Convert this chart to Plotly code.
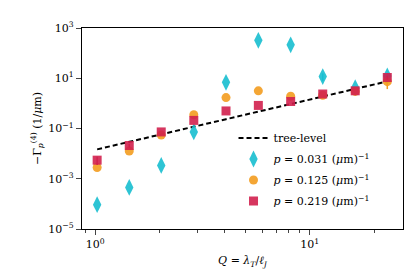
import plotly.graph_objects as go

Q = [1.02, 1.44, 2.03, 2.88, 4.07, 5.76, 8.15, 11.5, 16.3, 23.0]
tree_level = [0.0148, 0.029, 0.059, 0.118, 0.235, 0.47, 0.94, 1.88, 3.77, 7.5]

p031 = [9.3e-5, 4.5e-4, 3.4e-3, 0.073, 6.9, 323, 214, 11.7, 4.2, 12.3]
p031_err = [0, 0, 0, 0, 0, 0, 0, 4.0, 0, 3.0]
p125 = [2.8e-3, 0.0127, 0.055, 0.353, 1.7, 3.16, 1.92, 2.1, 3.0, 7.3]
p125_err = [0, 0, 0, 0, 0, 0, 0, 0, 0, 3.6]
p219 = [5.5e-3, 0.021, 0.073, 0.21, 0.50, 0.83, 1.19, 2.36, 3.16, 10.7]
p219_err = [0.002, 0.004, 0, 0, 0, 0, 0, 0, 0, 2.0]

labels = ["tree-level",
          "<i>p</i> = 0.031 (<i>μ</i>m)<sup>−1</sup>",
          "<i>p</i> = 0.125 (<i>μ</i>m)<sup>−1</sup>",
          "<i>p</i> = 0.219 (<i>μ</i>m)<sup>−1</sup>"]

y_tickvals = [1e-5, 1e-3, 1e-1, 1e1, 1e3]
y_ticktext = ["10<sup>−5</sup>", "10<sup>−3</sup>", "10<sup>−1</sup>", "10<sup>1</sup>", "10<sup>3</sup>"]
x_tickvals = [1, 10]
x_ticktext = ["10<sup>0</sup>", "10<sup>1</sup>"]
x_minor = [0.9, 2, 3, 4, 5, 6, 7, 8, 9, 20]

cyan = "#17becf"
orange = "#f39c1f"
red = "#d2204e"

fig = go.Figure()
fig.add_trace(go.Scatter(x=Q, y=tree_level, mode="lines", name=labels[0], legendgroup="a",
                         line=dict(color="black", width=2, dash="5px,3px")))
fig.add_trace(go.Scatter(x=Q, y=p031, mode="markers", name=labels[1], legendgroup="b",
                         marker=dict(symbol="diamond-tall", size=12, color=cyan, opacity=0.9, line=dict(width=0)),
                         error_y=dict(type="data", array=p031_err, color=cyan, thickness=1.5, width=0)))
fig.add_trace(go.Scatter(x=Q, y=p125, mode="markers", name=labels[2], legendgroup="c",
                         marker=dict(symbol="circle", size=9, color=orange, opacity=0.9, line=dict(width=0)),
                         error_y=dict(type="data", array=p125_err, color=orange, thickness=1.5, width=0)))
fig.add_trace(go.Scatter(x=Q, y=p219, mode="markers", name=labels[3], legendgroup="d",
                         marker=dict(symbol="square", size=9, color=red, opacity=0.9, line=dict(width=0)),
                         error_y=dict(type="data", array=p219_err, color=red, thickness=1.5, width=0)))

font_family = "'DejaVu Serif', 'Liberation Serif', serif"
fig.update_layout(
    width=415, height=277,
    margin=dict(l=74, r=20, t=14, b=56),
    paper_bgcolor="white", plot_bgcolor="white",
    font=dict(family=font_family, size=11, color="black"),
    showlegend=True,
    legend=dict(x=0.472, y=0.525, xanchor="left", yanchor="top",
                bgcolor="rgba(255,255,255,0)", borderwidth=0,
                font=dict(family=font_family, size=11), tracegroupgap=2),
    xaxis=dict(type="log", range=[-0.062, 1.435], showgrid=False, zeroline=False,
               showline=True, linecolor="black", linewidth=1.2, mirror=True,
               ticks="outside", ticklen=5, tickwidth=1.2,
               tickvals=x_tickvals, ticktext=x_ticktext,
               tickfont=dict(family=font_family, size=11),
               minor=dict(ticks="outside", ticklen=3, tickwidth=1, tickvals=x_minor, showgrid=False),
               title=dict(text="<i>Q</i> = <i>λ</i><sub><i>T</i></sub>/<i>ℓ</i><sub><i>J</i></sub>",
                          font=dict(family=font_family, size=11), standoff=6)),
    yaxis=dict(type="log", range=[-5, 3], showgrid=False, zeroline=False,
               showline=True, linecolor="black", linewidth=1.2, mirror=True,
               ticks="outside", ticklen=5, tickwidth=1.2,
               tickvals=y_tickvals, ticktext=y_ticktext,
               tickfont=dict(family=font_family, size=11),
               title=dict(text="−Γ<sub><i>p</i></sub><sup>(4)</sup> (1/<i>μ</i>m)",
                          font=dict(family=font_family, size=11), standoff=4)),
)

fig.write_html("out.html")
